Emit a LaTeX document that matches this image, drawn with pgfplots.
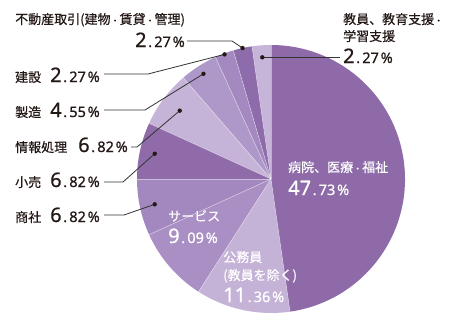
\documentclass[border=0pt]{standalone}
\usepackage{pgfplots}
\usepackage{pgfplotstable}
\pgfplotsset{compat=1.18}
\usepackage{fontspec}
\newfontfamily\jp[FakeBold=0.3]{Noto Sans CJK JP}
\newfontfamily\numf[FakeBold=0.7]{Noto Sans}

\definecolor{ink}{HTML}{231815}
\definecolor{leader}{HTML}{333333}
\definecolor{sl0}{HTML}{C6B5D9}
\definecolor{sl1}{HTML}{8E6BAA}
\definecolor{sl2}{HTML}{A389C0}
\definecolor{sl3}{HTML}{AE98C9}
\definecolor{sl4}{HTML}{C5B4D8}
\definecolor{sl5}{HTML}{8F6CA9}
\definecolor{sl6}{HTML}{A388BF}
\definecolor{sl7}{HTML}{A98FC4}
\definecolor{sl8}{HTML}{C4B2D7}
\definecolor{sl9}{HTML}{8E6BA8}

% shares in percent, counter-clockwise from 12 o'clock;
% dotr = distance of the leader dot from the centre (0 = label inside)
\pgfplotstableread{
pct    dotr
2.27   122
2.27   134
2.27   133
4.55   125
6.82   114
6.82   119
6.82   119
9.09   0
11.36  0
47.73  0
}\shares

\def\cx{271}\def\cy{146}\def\rad{134}
\def\acc{90}
\foreach \i in {0,...,9}{%
  \pgfplotstablegetelem{\i}{pct}\of\shares
  \pgfmathsetmacro\endang{\acc+3.6*\pgfplotsretval}%
  \pgfplotstablegetelem{\i}{dotr}\of\shares
  \let\rr\pgfplotsretval
  \pgfmathsetmacro\midang{(\acc+\endang)/2}%
  \pgfmathsetmacro\px{\cx+\rr*cos(\midang)}%
  \pgfmathsetmacro\py{\cy+\rr*sin(\midang)}%
  \expandafter\xdef\csname sa\i\endcsname{\acc}%
  \expandafter\xdef\csname sb\i\endcsname{\endang}%
  \expandafter\xdef\csname px\i\endcsname{\px}%
  \expandafter\xdef\csname py\i\endcsname{\py}%
  \xdef\acc{\endang}%
}
\newcommand\dotpt[1]{axis cs:\csname px#1\endcsname,\csname py#1\endcsname}

% big integer part, small decimals and percent sign
\newcommand\pc[2]{{\numf\fontsize{20}{20}\selectfont #1}%
  {\numf\fontsize{14.5}{14.5}\selectfont\hspace{1.6pt}.\hspace{2.2pt}#2\hspace{1.8pt}\%}}
\newcommand\md{{\fontsize{9}{9}\selectfont・}}

\begin{document}
\begin{tikzpicture}
\begin{axis}[
  x=1pt, y=1pt, xmin=0, xmax=450, ymin=0, ymax=325,
  at={(0,0)}, anchor=origin,
  hide axis, clip=false, scale only axis,
]
\pgfplotsinvokeforeach{0,...,9}{
  \fill[sl#1] (axis cs:\cx,\cy) -- ++(\csname sa#1\endcsname:\rad pt)
     arc[start angle=\csname sa#1\endcsname, end angle=\csname sb#1\endcsname, radius=\rad pt] -- cycle;
}
\pgfplotsinvokeforeach{0,...,9}{
  \draw[white, opacity=0.45, line width=0.6pt] (axis cs:\cx,\cy) -- ++(\csname sa#1\endcsname:\rad pt);
}

% leader lines
\begin{scope}[leader, line width=0.8pt]
\draw (\dotpt{0}) -- (axis cs:340,\csname py0\endcsname);
\draw (axis cs:187,284) -- (axis cs:232,284) -- (\dotpt{1});
\draw (axis cs:104,251) -- (axis cs:148,251) -- (\dotpt{2});
\draw (axis cs:104,215) -- (axis cs:145,215) -- (\dotpt{3});
\draw (axis cs:131,178) -- (axis cs:137,178) -- (\dotpt{4});
\draw (axis cs:104,143) -- (axis cs:123,143) -- (\dotpt{5});
\draw (axis cs:104,110) -- (axis cs:124,110) -- (\dotpt{6});
\end{scope}
\pgfplotsinvokeforeach{0,...,6}{
  \fill[ink] (\dotpt{#1}) circle[radius=2.2pt];
}

% outside labels
\begin{scope}[every node/.style={inner sep=0pt, anchor=base west, text=ink, font=\jp\fontsize{13}{13}\selectfont}]
\node at (axis cs:15,301) {不動産取引(建物\md 賃貸\md 管理)};
\node at (axis cs:135,278) {\pc{2}{27}};
\node at (axis cs:343,301) {教員、教育支援\md};
\node at (axis cs:343,284) {学習支援};
\node at (axis cs:343,262) {\pc{2}{27}};
\node at (axis cs:15,243) {建設};
\node at (axis cs:50,243) {\pc{2}{27}};
\node at (axis cs:15,208) {製造};
\node at (axis cs:50,208) {\pc{4}{55}};
\node at (axis cs:15,173) {情報処理};
\node at (axis cs:78,173) {\pc{6}{82}};
\node at (axis cs:15,138) {小売};
\node at (axis cs:50,138) {\pc{6}{82}};
\node at (axis cs:15,103) {商社};
\node at (axis cs:50,103) {\pc{6}{82}};
\end{scope}

% inside labels
\begin{scope}[every node/.style={inner sep=0pt, anchor=base west, text=white, font=\jp\fontsize{13}{13}\selectfont}]
\node at (axis cs:288,153) {病院、医療\md 福祉};
\node at (axis cs:288,130) {\pc{47}{73}};
\node at (axis cs:168,104) {サービス};
\node at (axis cs:168,82) {\pc{9}{09}};
\node at (axis cs:223,63) {公務員};
\node at (axis cs:223,45) {(教員を除く)};
\node at (axis cs:223,23) {\pc{11}{36}};
\end{scope}
\end{axis}
\pgfresetboundingbox
\path (0,0) rectangle (450pt,325pt);
\end{tikzpicture}
\end{document}
